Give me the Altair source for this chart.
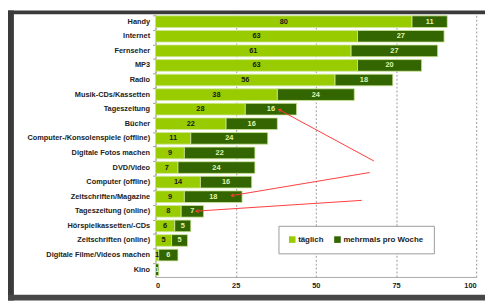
import altair as alt
import pandas as pd

categories = ["Handy", "Internet", "Fernseher", "MP3", "Radio", "Musik-CDs/Kassetten",
              "Tageszeitung", "Bücher", "Computer-/Konsolenspiele (offline)",
              "Digitale Fotos machen", "DVD/Video", "Computer (offline)",
              "Zeitschriften/Magazine", "Tageszeitung (online)", "Hörspielkassetten/-CDs",
              "Zeitschriften (online)", "Digitale Filme/Videos machen", "Kino"]
taeglich = [80, 63, 61, 63, 56, 38, 28, 22, 11, 9, 7, 14, 9, 8, 6, 5, 1, 0]
mehrmals = [11, 27, 27, 20, 18, 24, 16, 16, 24, 22, 24, 16, 18, 7, 5, 5, 6, 1]
series = ["täglich", "mehrmals pro Woche"]
tick_values = [0, 25, 50, 75, 100]

# annotation arrows (x in percent units, y in row index units)
ann_x1 = [68.1, 66.8, 64.3]
ann_y1 = [9.55, 10.34, 12.25]
ann_x2 = [38.4, 23.6, 12.6]
ann_y2 = [6.02, 11.93, 12.99]
ann_angle = [208, 170, 176]

FONT = "Liberation Sans"
LIGHT = "#99cc00"
DARK = "#336600"
RED = "#ff3b3b"
FRAME = "#3a3a3a"

rows = []
for i, c in enumerate(categories):
    t, m = taeglich[i], mehrmals[i]
    rows.append({"cat": c, "series": series[0], "order": 0, "start": 0, "end": t, "value": t})
    rows.append({"cat": c, "series": series[1], "order": 1, "start": t, "end": t + m, "value": m})
df = pd.DataFrame(rows)
df["mid"] = (df["start"] + df["end"]) / 2
df_text = df[df["value"] > 0]

ann = pd.DataFrame({"x1": ann_x1, "y1": ann_y1, "x2": ann_x2, "y2": ann_y2, "ang": ann_angle})

xscale = alt.Scale(domain=[0, 100], nice=False, zero=True)
yband = alt.Scale(domain=categories, paddingInner=0.2, paddingOuter=0.1)

one = pd.DataFrame({"a": [0]})
frame_left = alt.Chart(one).mark_rect(color=FRAME).encode(
    x=alt.value(-150), x2=alt.value(-144), y=alt.value(-4), y2=alt.value(291))
frame_top = alt.Chart(one).mark_rect(color=FRAME).encode(
    x=alt.value(-150), x2=alt.value(335), y=alt.value(-4), y2=alt.value(0))
frame_bottom = alt.Chart(one).mark_rect(color="#474747").encode(
    x=alt.value(-150), x2=alt.value(335), y=alt.value(285), y2=alt.value(291))

bars = alt.Chart(df).mark_bar(stroke="#cfe89a", strokeWidth=0.8).encode(
    x=alt.X("start:Q", scale=xscale,
            axis=alt.Axis(values=tick_values, title=None, grid=True, gridDash=[2, 2],
                          gridColor="#aaaaaa", gridWidth=1.2, ticks=False,
                          domainColor="#aaaaaa", labelFont=FONT, labelFontWeight="bold",
                          labelFontSize=7.5, labelColor="#222222", labelPadding=5)),
    x2="end:Q",
    y=alt.Y("cat:N", scale=yband, sort=categories,
            axis=alt.Axis(title=None, labelFont=FONT, labelFontWeight="bold",
                          labelFontSize=7.5, labelColor="#222222", labelPadding=3,
                          tickSize=3, tickColor="#999999", bandPosition=0,
                          domainColor="#999999", labelLimit=200)),
    color=alt.Color("series:N", scale=alt.Scale(domain=series, range=[LIGHT, DARK]),
                    legend=alt.Legend(title=None, orient="none", legendX=125, legendY=215,
                                      direction="horizontal", padding=10,
                                      strokeColor="#999999", fillColor="white",
                                      symbolType="square", symbolSize=45,
                                      symbolStrokeWidth=0, labelFont=FONT,
                                      labelFontWeight="bold", labelFontSize=8,
                                      labelColor="#222222", labelOffset=2,
                                      columnPadding=10)),
)

labels = alt.Chart(df_text).mark_text(font=FONT, fontWeight="bold", fontSize=7.5).encode(
    x=alt.X("mid:Q", scale=xscale),
    y=alt.Y("cat:N", scale=yband, sort=categories),
    text="value:Q",
    color=alt.condition(alt.datum.series == series[0], alt.value("#1a1a1a"), alt.value("#dff5b0")),
)

base = alt.layer(bars, labels, frame_left, frame_top, frame_bottom)

yq = alt.Scale(domain=[-0.5, len(categories) - 0.5], reverse=True, nice=False, zero=False)
lines = alt.Chart(ann).mark_rule(color=RED, strokeWidth=1).encode(
    x=alt.X("x1:Q", scale=xscale), x2="x2:Q",
    y=alt.Y("y1:Q", scale=yq, axis=None), y2="y2:Q",
)
heads = alt.Chart(ann).mark_point(shape="M-1,-0.6L0,0L-1,0.6", filled=False, color=RED,
                                  strokeWidth=1, size=30, opacity=1).encode(
    x=alt.X("x2:Q", scale=xscale),
    y=alt.Y("y2:Q", scale=yq, axis=None),
    angle=alt.Angle("ang:Q", scale=None),
)
annot = alt.layer(lines, heads)

chart = alt.layer(base, annot).resolve_scale(y="independent").properties(
    width=326, height=267,
    padding={"left": 150, "top": 4, "right": 9, "bottom": 24},
    autosize=alt.AutoSizeParams(type="none"),
    background="white",
).configure_view(stroke=None)

chart.save("out.html", embed_options={"renderer": "svg", "actions": False})
